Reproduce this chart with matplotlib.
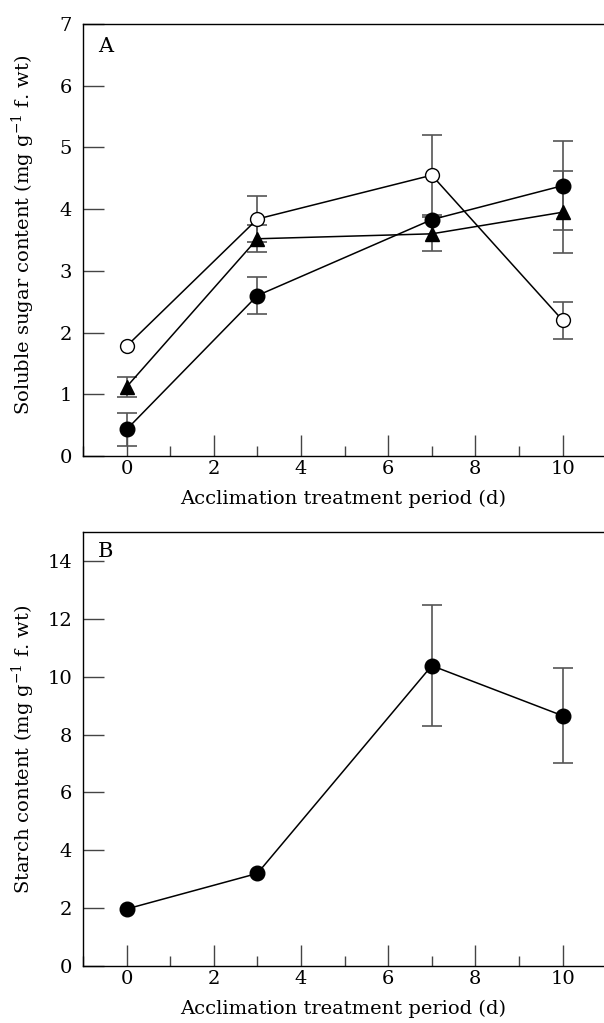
import matplotlib
matplotlib.use("Agg")
import matplotlib.pyplot as plt
from matplotlib.ticker import MultipleLocator

plt.rcParams["font.family"] = ["DejaVu Serif"]
plt.rcParams["mathtext.fontset"] = "dejavuserif"

days = [0, 3, 7, 10]

# Panel A: soluble sugar content (0 = no visible error bar)
open_circle = [1.78, 3.84, 4.55, 2.20]
open_circle_err = [0.0, 0.38, 0.65, 0.30]
triangle = [1.12, 3.52, 3.60, 3.95]
triangle_err = [0.16, 0.22, 0.28, 0.66]
filled_circle = [0.43, 2.60, 3.83, 4.38]
filled_circle_err = [0.26, 0.30, 0.0, 0.72]

# Panel B: starch content
starch = [1.97, 3.20, 10.38, 8.65]
starch_err = [0.0, 0.0, 2.10, 1.65]

W, H = 604, 1023
fig = plt.figure(figsize=(W / 100, H / 100), dpi=100)

ERR_COLOR = "#555555"


def make_axes(top_px, bottom_px):
    left_px, right_px = 83, 604
    ax = fig.add_axes([left_px / W, (H - bottom_px) / H,
                       (right_px - left_px) / W, (bottom_px - top_px) / H])
    ax.spines["right"].set_visible(False)
    for s in ("left", "bottom", "top"):
        ax.spines[s].set_linewidth(1.0)
    ax.set_xlim(-1.0, 10.95)
    ax.xaxis.set_major_locator(MultipleLocator(2))
    ax.xaxis.set_minor_locator(MultipleLocator(1))
    ax.tick_params(axis="both", which="major", direction="in", length=15,
                   width=1.0, color="#444444", labelsize=14)
    ax.tick_params(axis="x", which="major", pad=3)
    ax.tick_params(axis="y", which="major", pad=8)
    ax.tick_params(axis="x", which="minor", direction="in", length=7,
                   width=1.0, color="#444444")
    ax.tick_params(top=False, right=False)
    ax.set_xlabel("Acclimation treatment period (d)", fontsize=14, labelpad=8)
    return ax


def series(ax, y, err, marker, face, size):
    # only draw error bars where one is visible in the original
    ex = [d for d, e in zip(days, err) if e > 0]
    ey = [v for v, e in zip(y, err) if e > 0]
    ee = [e for e in err if e > 0]
    ax.errorbar(ex, ey, yerr=ee, fmt="none", ecolor=ERR_COLOR,
                elinewidth=1.2, capsize=7, capthick=1.2, zorder=2)
    ax.plot(days, y, color="black", lw=1.1, marker=marker, ms=size,
            markerfacecolor=face, markeredgecolor="black",
            markeredgewidth=1.0, zorder=3)


ax1 = make_axes(24, 456)
ax1.set_ylim(0, 7)
ax1.yaxis.set_major_locator(MultipleLocator(1))
series(ax1, open_circle, open_circle_err, "o", "white", 10)
series(ax1, triangle, triangle_err, "^", "black", 10)
series(ax1, filled_circle, filled_circle_err, "o", "black", 10.5)
ax1.set_ylabel("Soluble sugar content (mg g$^{-1}$ f. wt)", fontsize=14)
ax1.yaxis.set_label_coords(-0.088, 0.512)
ax1.text(0.029, 0.97, "A", transform=ax1.transAxes, fontsize=15,
         va="top", ha="left")

ax2 = make_axes(532, 966)
ax2.set_ylim(0, 15)
ax2.yaxis.set_major_locator(MultipleLocator(2))
series(ax2, starch, starch_err, "o", "black", 10.5)
ax2.set_ylabel("Starch content (mg g$^{-1}$ f. wt)", fontsize=14)
ax2.yaxis.set_label_coords(-0.088, 0.5)
ax2.text(0.029, 0.977, "B", transform=ax2.transAxes, fontsize=15,
         va="top", ha="left")

fig.savefig("out.png", dpi=100)
